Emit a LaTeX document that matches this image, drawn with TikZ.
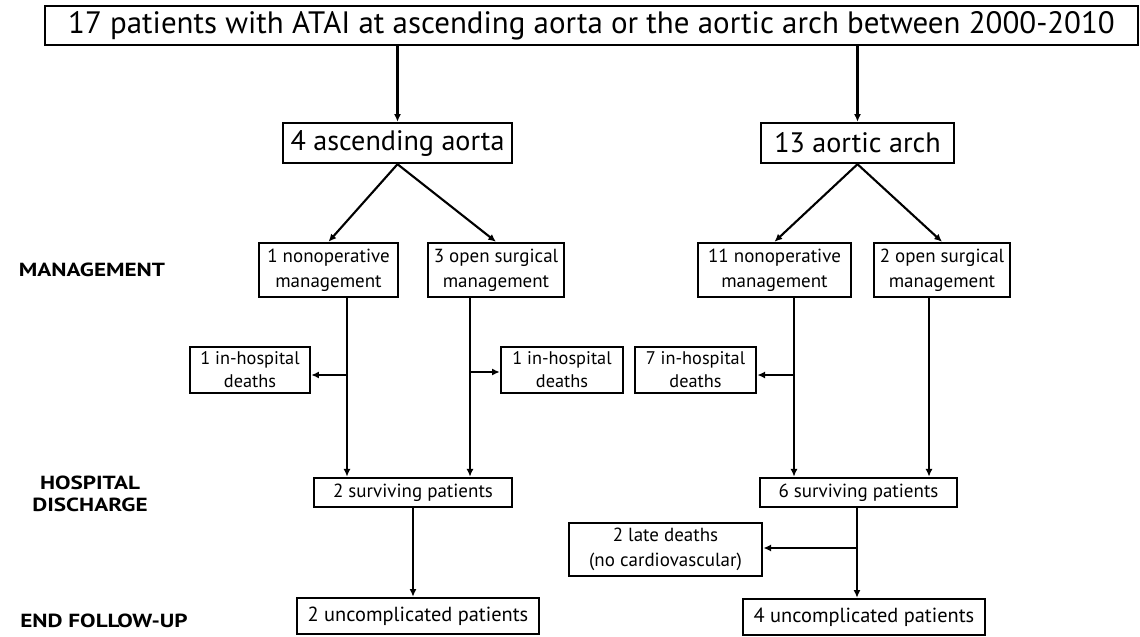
\documentclass[tikz,border=0pt]{standalone}
\usepackage{fontspec}
\setmainfont{PT Sans}
\newfontfamily\stagefont[FakeStretch=1.22]{PT Sans Bold}
\usetikzlibrary{arrows.meta,positioning}

\begin{document}
\begin{tikzpicture}[x=0.025cm, y=-0.025cm, >={Latex[length=5.5pt,width=5pt]},
        box/.style={draw, line width=1.7pt, inner sep=1pt, align=center},
        flow/.style={->, line width=1.5pt},
        stage/.style={font=\stagefont\fontsize{13.5}{15.5}\selectfont, align=center}]
        \useasboundingbox (0,0) rectangle (1140,637);

        % Input
        \node [box, minimum width=27.33cm, minimum height=0.98cm, font=\fontsize{22}{26}\selectfont] (all) at (591.5,25.5) {17 patients with ATAI at ascending aorta or the aortic arch between 2000-2010};

        % Site of injury
        \node [box, minimum width=5.73cm, minimum height=1cm, font=\fontsize{20}{24}\selectfont] (asc) at (397.5,143) {4 ascending aorta};
        \node [box, minimum width=4.83cm, minimum height=1cm, font=\fontsize{20}{24}\selectfont] (arch) at (857.5,143) {13 aortic arch};

        % Management
        \node [box, minimum width=3.48cm, minimum height=1.35cm, font=\fontsize{13.5}{17.8}\selectfont] (ascnonop) at (328.5,270) {1 nonoperative\\management};
        \node [box, minimum width=3.4cm, minimum height=1.35cm, font=\fontsize{13.5}{17.8}\selectfont] (ascopen) at (496,270) {3 open surgical\\management};
        \node [box, minimum width=3.83cm, minimum height=1.35cm, font=\fontsize{13.5}{17.8}\selectfont] (archnonop) at (774.5,270) {11 nonoperative\\management};
        \node [box, minimum width=3.4cm, minimum height=1.35cm, font=\fontsize{13.5}{17.8}\selectfont] (archopen) at (942,270) {2 open surgical\\management};

        % In-hospital deaths
        \node [box, minimum width=3cm, minimum height=1.15cm, font=\fontsize{13}{16.4}\selectfont] (ascdeathL) at (250,370) {1 in-hospital\\deaths};
        \node [box, minimum width=3.05cm, minimum height=1.15cm, font=\fontsize{13}{16.4}\selectfont] (ascdeathR) at (562,370) {1 in-hospital\\deaths};
        \node [box, minimum width=3.03cm, minimum height=1.15cm, font=\fontsize{13}{16.4}\selectfont] (archdeath) at (695.5,370) {7 in-hospital\\deaths};

        % Hospital discharge
        \node [box, minimum width=4.95cm, minimum height=0.73cm, font=\fontsize{13.5}{16}\selectfont] (ascsurv) at (413,492.5) {2 surviving patients};
        \node [box, minimum width=4.93cm, minimum height=0.73cm, font=\fontsize{13.5}{16}\selectfont] (archsurv) at (858.5,492.5) {6 surviving patients};
        \node [box, minimum width=4.83cm, minimum height=1.33cm, font=\fontsize{13.5}{17.8}\selectfont] (late) at (665.5,549.5) {2 late deaths\\(no cardiovascular)};

        % End follow-up
        \node [box, minimum width=6.05cm, minimum height=0.9cm, font=\fontsize{14.5}{17}\selectfont] (ascend) at (418,616) {2 uncomplicated patients};
        \node [box, minimum width=6.05cm, minimum height=0.9cm, font=\fontsize{14.5}{17}\selectfont] (archend) at (864,617) {4 uncomplicated patients};

        % Stage labels
        \node [stage] (lblmanage) at (92,270) {MANAGEMENT};
        \node [stage] (lbldischarge) at (90,494) {HOSPITAL\\DISCHARGE};
        \node [stage] (lblfollow) at (104,621) {END FOLLOW-UP};

        % Branch points
        \coordinate (ascsplitL) at (347,375);
        \coordinate (ascsplitR) at (470,372);
        \coordinate (archsplitL) at (794,375);
        \coordinate (archsplitR) at (929,375);
        \coordinate (archsplitE) at (857,548);

        % Arrows
        \draw [flow] (all.south -| asc.north) -- (asc);
        \draw [flow] (all.south -| arch.north) -- (arch);
        \draw [flow] (asc.south) -- (ascnonop.north);
        \draw [flow] (asc.south) -- (ascopen.north);
        \draw [flow] (arch.south) -- (archnonop.north);
        \draw [flow] (arch.south) -- (archopen.north);

        \draw [flow] (ascsplitL |- ascnonop.south) -- (ascsplitL |- ascsurv.north);
        \draw [flow] (ascsplitL) -- (ascdeathL.east |- ascsplitL);
        \draw [flow] (ascsplitR |- ascopen.south) -- (ascsplitR |- ascsurv.north);
        \draw [flow] (ascsplitR) -- (ascdeathR.west |- ascsplitR);
        \draw [flow] (archsplitL |- archnonop.south) -- (archsplitL |- archsurv.north);
        \draw [flow] (archsplitL) -- (archdeath.east |- archsplitL);
        \draw [flow] (archsplitR |- archopen.south) -- (archsplitR |- archsurv.north);

        \draw [flow] (ascsurv.south) -- (ascsurv.south |- ascend.north);
        \draw [flow] (archsplitE |- archsurv.south) -- (archsplitE |- archend.north);
        \draw [flow] (archsplitE) -- (late.east |- archsplitE);
    \end{tikzpicture}
\end{document}
